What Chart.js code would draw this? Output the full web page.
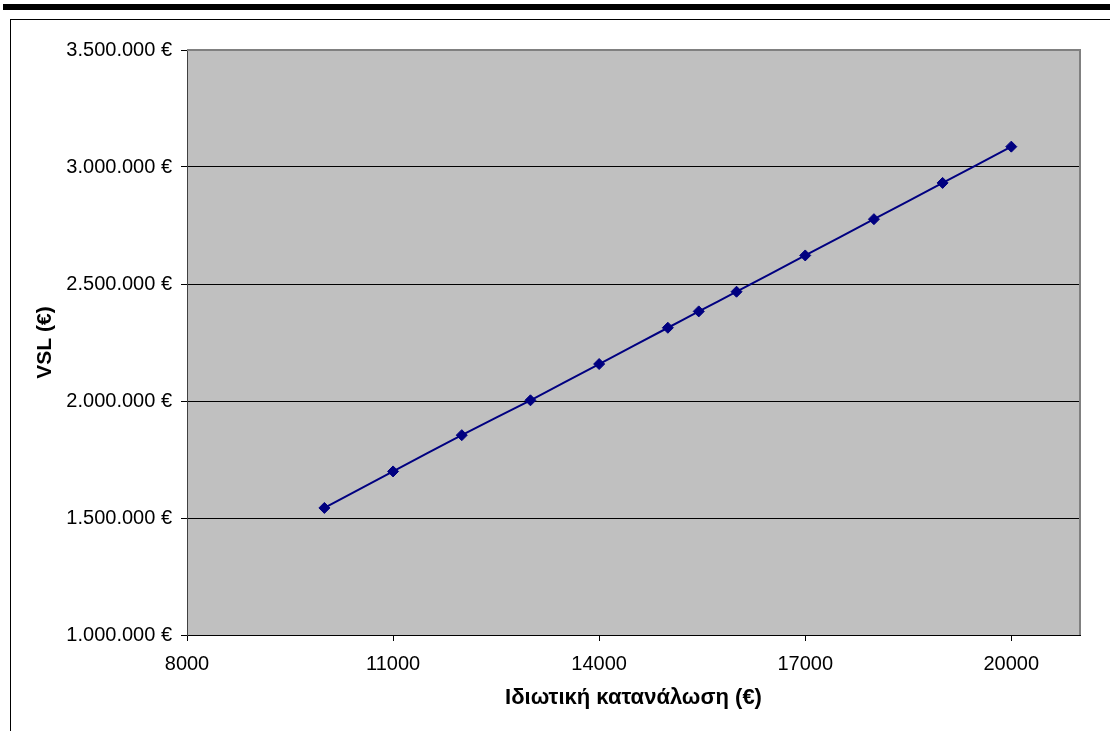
<!DOCTYPE html>
<html>
<head>
<meta charset="utf-8">
<script src="https://cdn.jsdelivr.net/npm/chart.js@4/dist/chart.umd.min.js"></script>
<style>
  html, body { margin: 0; padding: 0; background: #fff; }
  #wrap { position: relative; width: 1110px; height: 731px; overflow: hidden; }
  #bar { position: absolute; left: 3px; top: 4px; width: 1107px; height: 6px; background: #000; }
  #frame { position: absolute; left: 10px; top: 19px; width: 1200px; height: 800px;
           border-left: 1px solid #000; border-top: 1px solid #000; }
  #chart { position: absolute; left: 0; top: 0; }
</style>
</head>
<body>
<div id="wrap">
  <div id="bar"></div>
  <div id="frame"></div>
  <canvas id="chart" width="1110" height="731"></canvas>
</div>
<script>
// private consumption (€) vs VSL (€)
const consumption = [10000, 11000, 12000, 13000, 14000, 15000, 15450, 16000, 17000, 18000, 19000, 20000];
const vsl = [1543000, 1699000, 1854000, 2003000, 2158000, 2313000, 2383000, 2467000, 2622000, 2777000, 2932000, 3087000];

const xTicks = [8000, 11000, 14000, 17000, 20000];
const yTicks = [1000000, 1500000, 2000000, 2500000, 3000000, 3500000];

const xTitle = "Ιδιωτική κατανάλωση (€)";
const yTitle = "VSL (€)";

function euro(v) {
    return String(v).replace(/\B(?=(\d{3})+(?!\d))/g, ".") + " €";
}

const plotBg = {
    id: "plotBg",
    beforeDraw(chart) {
        const a = chart.chartArea, ctx = chart.ctx;
        ctx.save();
        ctx.fillStyle = "#C0C0C0";
        ctx.fillRect(a.left, a.top, a.right - a.left, a.bottom - a.top);
        ctx.restore();
    },
    beforeDatasetsDraw(chart) {
        const a = chart.chartArea, ctx = chart.ctx;
        ctx.save();
        ctx.strokeStyle = "#808080";
        ctx.lineWidth = 2;
        ctx.beginPath();
        ctx.moveTo(a.left, a.top);
        ctx.lineTo(a.right, a.top);
        ctx.lineTo(a.right, a.bottom);
        ctx.stroke();
        ctx.restore();
    }
};

const ctx = document.getElementById("chart").getContext("2d");
new Chart(ctx, {
    type: "line",
    data: {
        datasets: [{
            data: consumption.map((x, i) => ({ x: x, y: vsl[i] })),
            borderColor: "#000080",
            backgroundColor: "#000080",
            borderWidth: 2,
            pointStyle: "rectRot",
            pointRadius: 5.5,
            pointBorderWidth: 1,
            tension: 0.3,
            fill: false
        }]
    },
    options: {
        responsive: false,
        animation: false,
        layout: { padding: { top: 50, right: 30, left: 0, bottom: 0 } },
        plugins: {
            legend: { display: false },
            tooltip: { enabled: false }
        },
        scales: {
            x: {
                type: "linear",
                min: 8000,
                max: 21000,
                afterBuildTicks: s => { s.ticks = xTicks.map(v => ({ value: v })); },
                afterFit: s => { s.height = 96; },
                grid: { drawOnChartArea: false, drawTicks: true, tickLength: 6, color: "#000" },
                border: { color: "#000", width: 1 },
                ticks: {
                    color: "#000",
                    padding: 11,
                    maxRotation: 0,
                    font: { family: "Arial, 'Liberation Sans'", size: 20 },
                    callback: v => String(v)
                },
                title: {
                    display: true,
                    text: xTitle,
                    color: "#000",
                    padding: { top: 0, bottom: 20 },
                    font: { family: "Arial, 'Liberation Sans'", size: 22, weight: "bold" }
                }
            },
            y: {
                type: "linear",
                min: 1000000,
                max: 3500000,
                afterBuildTicks: s => { s.ticks = yTicks.map(v => ({ value: v })); },
                afterFit: s => { s.width = 187; },
                grid: { drawOnChartArea: true, drawTicks: true, tickLength: 6, color: "#000", lineWidth: 1 },
                border: { color: "#404040", width: 1 },
                ticks: {
                    color: "#000",
                    padding: 9,
                    font: { family: "Arial, 'Liberation Sans'", size: 20 },
                    callback: v => euro(v)
                },
                title: {
                    display: true,
                    text: yTitle,
                    color: "#000",
                    padding: { top: 33, bottom: 0 },
                    font: { family: "Arial, 'Liberation Sans'", size: 21, weight: "bold" }
                }
            }
        }
    },
    plugins: [plotBg]
});
</script>
</body>
</html>
